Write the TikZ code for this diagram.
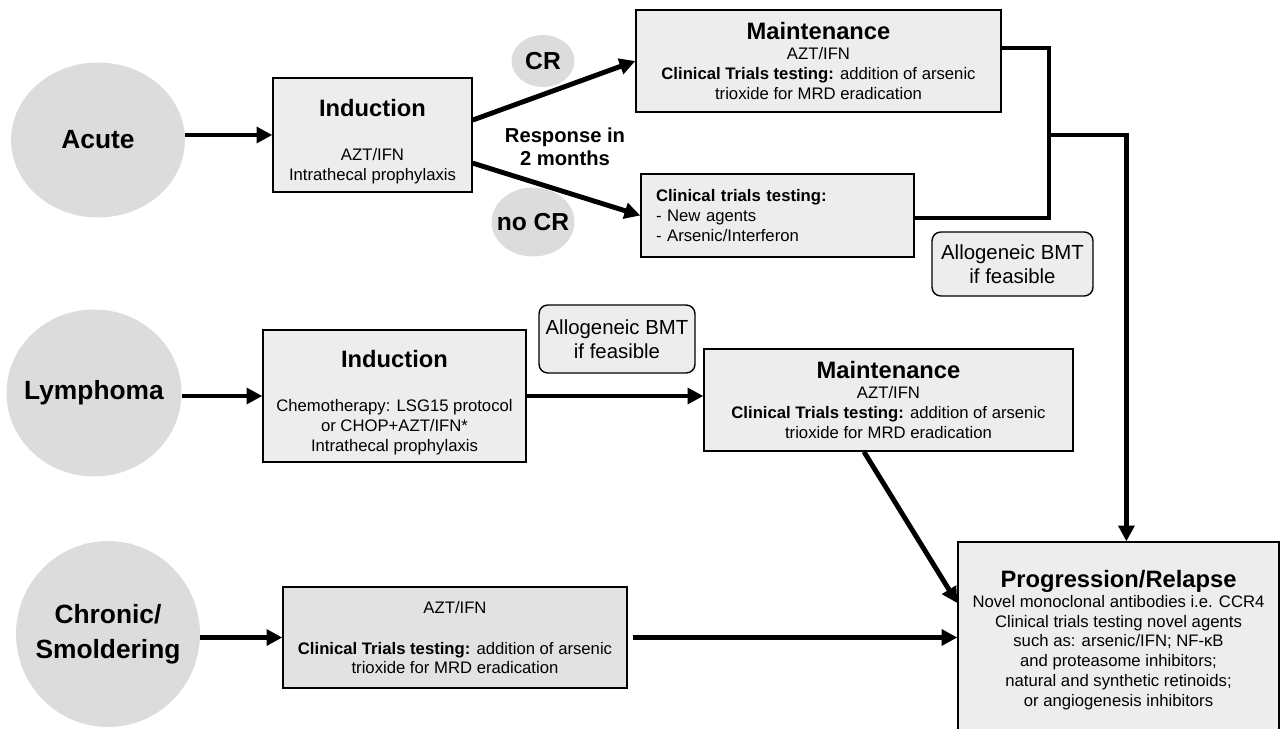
\documentclass[tikz,border=0pt]{standalone}
\usepackage{fontspec}
\setmainfont{Liberation Sans}
\usetikzlibrary{arrows.meta,positioning,calc,shapes.geometric}
\definecolor{stagegray}{RGB}{220,220,220}
\definecolor{boxgray}{RGB}{237,237,237}
\definecolor{darkbox}{RGB}{226,226,226}
\newcommand{\steptitle}[1]{{\bfseries\fontsize{13.5}{16}\selectfont #1}}

\begin{document}
\begin{tikzpicture}[x=0.02cm, y=-0.02cm,
    every node/.style={font=\fontsize{9.5}{11.3}\selectfont},
    stage/.style={ellipse, fill=stagegray, inner ysep=0pt, inner xsep=-30pt, align=center, font=\bfseries\fontsize{15}{19.8}\selectfont},
    pill/.style={ellipse, fill=stagegray, inner ysep=0pt, inner xsep=-10pt, font=\bfseries\fontsize{14}{16}\selectfont},
    stepbox/.style={draw, line width=0.8pt, fill=boxgray, align=center, inner sep=0pt},
    bmtbox/.style={draw, line width=0.8pt, rounded corners=5pt, fill=boxgray, align=center, inner sep=0pt, font=\fontsize{11.6}{13.6}\selectfont},
    flow/.style={line width=2.8pt, -{Triangle[length=9pt,width=9pt]}},
    link/.style={line width=2.4pt}]
    \useasboundingbox (0,0) rectangle (1280,729);
    \clip (0,0) rectangle (1280,729);

    % disease forms
    \node[stage, minimum width=3.48cm, minimum height=3.1cm] (acute) at (98,140) {Acute};
    \node[stage, minimum width=3.5cm, minimum height=3.34cm] (lymph) at (94,393) {Lymphoma};
    \node[stage, minimum width=3.68cm, minimum height=3.72cm] (chr) at (108,634) {Chronic/\\Smoldering};

    % acute branch
    \node[stepbox, minimum width=3.98cm, minimum height=2.28cm] (ind1) at (372.5,135) {
      \rule{0pt}{17pt}\steptitle{Induction}\\[14pt]
      AZT/IFN\\
      Intrathecal prophylaxis
    };
    \node[pill, minimum width=1.26cm, minimum height=1.04cm] (cr) at (543,61) {CR};
    \node[pill, minimum width=1.66cm, minimum height=1.38cm] (nocr) at (533,222) {no CR};
    \node[align=center, font=\bfseries\fontsize{11.5}{13}\selectfont] (resp) at (565,147) {Response in\\2 months};
    \node[stepbox, minimum width=7.3cm, minimum height=2.04cm] (ma1) at (818.5,61) {
      \steptitle{Maintenance}\\
      AZT/IFN\\
      \textbf{Clinical Trials testing:} addition of arsenic\\
      trioxide for MRD eradication
    };
    \node[stepbox, align=left, text width=4.86cm, inner xsep=0.3cm, minimum height=1.66cm] (ct) at (777.5,215.5) {
      \textbf{Clinical trials testing:}\\
      - New agents\\
      - Arsenic/Interferon
    };
    \node[bmtbox, minimum width=3.22cm, minimum height=1.28cm] (bmt1) at (1012.5,264) {Allogeneic BMT\\if feasible};

    % lymphoma branch
    \node[stepbox, minimum width=5.26cm, minimum height=2.64cm] (ind2) at (394.5,396) {
      \rule{0pt}{17pt}\steptitle{Induction}\\[14pt]
      Chemotherapy: LSG15 protocol\\
      or CHOP+AZT/IFN*\\
      Intrathecal prophylaxis
    };
    \node[bmtbox, minimum width=3.12cm, minimum height=1.36cm] (bmt2) at (617,339) {Allogeneic BMT\\if feasible};
    \node[stepbox, minimum width=7.38cm, minimum height=2.04cm] (ma2) at (888.5,400) {
      \steptitle{Maintenance}\\
      AZT/IFN\\
      \textbf{Clinical Trials testing:} addition of arsenic\\
      trioxide for MRD eradication
    };

    % chronic branch
    \node[stepbox, fill=darkbox, minimum width=6.88cm, minimum height=2.02cm] (chrbox) at (455,637.5) {
      AZT/IFN\\[12pt]
      \textbf{Clinical Trials testing:} addition of arsenic\\
      trioxide for MRD eradication
    };
    \node[stepbox, minimum width=6.42cm, minimum height=3.92cm] (prog) at (1118.5,640) {
      \steptitle{Progression/Relapse}\\
      Novel monoclonal antibodies i.e. CCR4\\
      Clinical trials testing novel agents\\
      such as: arsenic/IFN; NF-κB\\
      and proteasome inhibitors;\\
      natural and synthetic retinoids;\\
      or angiogenesis inhibitors
    };

    % connectors
    \coordinate (merge) at (1049,135);
    \draw[flow] (ind1.west -| acute.east) -- (ind1.west);
    \draw[flow] ([yshift=8.5pt]ind1.east) -- (ma1.west);
    \draw[flow] ([yshift=-16pt]ind1.east) -- (ct.west);
    \draw[link] ([yshift=7.4pt]ma1.east) -| (merge) |- ([yshift=-1.4pt]ct.east);
    \draw[flow] (merge) -| ([xshift=4.5pt]prog.north);
    \draw[flow] (ind2.west -| lymph.east) -- (ind2.west);
    \draw[flow] (ind2.east) -- (ind2.east -| ma2.west);
    \draw[flow] ([xshift=-14pt]ma2.south) -- ([yshift=21pt]prog.west);
    \draw[flow] (chrbox.west -| chr.east) -- (chrbox.west);
    \draw[flow, shorten <=2.8pt] (chrbox.east) -- (chrbox.east -| prog.west);
\end{tikzpicture}
\end{document}
